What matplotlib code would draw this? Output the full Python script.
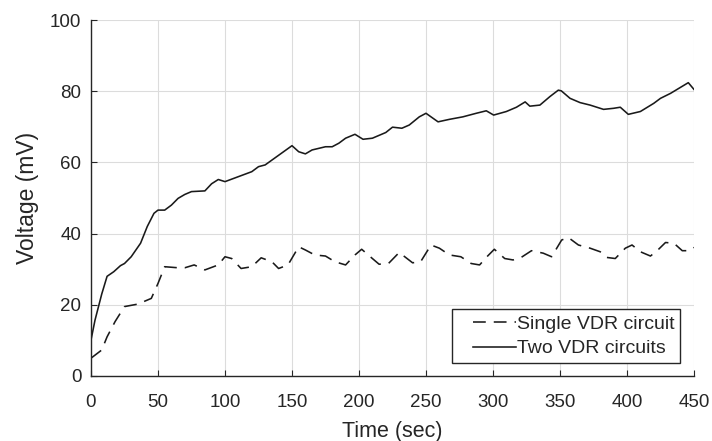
import matplotlib
matplotlib.use("Agg")
import matplotlib.pyplot as plt
from matplotlib.legend_handler import HandlerLine2D
from matplotlib.lines import Line2D

plt.rcParams['font.family'] = ['Liberation Sans', 'DejaVu Sans']

# Two VDR circuits (solid)
t_two = [0, 3, 8, 12, 17, 22, 25, 30, 37, 42, 47, 50, 55, 60, 65, 70, 75, 85, 90, 95,
         100, 110, 120, 125, 130, 140, 150, 155, 160, 165, 175, 180, 185, 190, 197, 203,
         210, 220, 225, 232, 237.5, 245, 250, 259, 267.5, 277.5, 287.5, 295, 300.5, 310,
         317.5, 324, 327.5, 335, 342.5, 348.75, 351, 357.5, 365, 372.5, 382.5, 390, 395,
         401, 410, 420, 425, 432.5, 440, 445.75, 450]
v_two = [10.1, 15.7, 23, 28, 29.3, 31, 31.6, 33.5, 37.3, 42, 45.7, 46.6, 46.6, 48, 49.9, 51,
         51.8, 52, 54, 55.2, 54.6, 56, 57.4, 58.8, 59.3, 62, 64.7, 63, 62.4, 63.5, 64.4, 64.4,
         65.4, 66.8, 67.9, 66.5, 66.8, 68.4, 69.9, 69.6, 70.5, 72.8, 73.8, 71.4, 72.1, 72.8,
         73.8, 74.5, 73.3, 74.3, 75.5, 77, 75.8, 76.1, 78.5, 80.3, 80.1, 78, 76.8, 76.1,
         74.9, 75.2, 75.5, 73.5, 74.3, 76.6, 78, 79.4, 81.1, 82.4, 80.5]

# Single VDR circuit (dashed)
t_single = [0, 8, 12, 18, 25, 35, 45, 50, 55, 65, 70, 77, 85, 95, 100, 105, 112, 120, 127,
            135, 140, 147, 155, 160, 167, 175, 182, 190, 197, 202, 210, 215, 222, 230,
            240, 246, 253.75, 260, 267.5, 276, 283.75, 290, 296, 301, 308.75, 315, 321,
            328.75, 337.5, 343.75, 351.25, 356.25, 363.75, 372.5, 380, 385, 391.25,
            398.75, 403.75, 410, 417.5, 422.5, 428.75, 435, 441.25, 446.25, 450]
v_single = [5, 7.3, 11, 15.3, 19.5, 20.2, 21.8, 26, 30.7, 30.4, 30.4, 31.2, 29.8, 31.2, 33.5,
            33, 30.2, 30.7, 33.2, 32.1, 30.2, 31.2, 36.3, 35.4, 34, 33.7, 32.1, 31.2, 34,
            35.6, 33, 31.4, 31.6, 34.7, 31.8, 32.1, 36.8, 35.9, 34, 33.5, 31.6, 31.2,
            33.7, 35.6, 33, 32.6, 33.3, 35.2, 34.5, 33.5, 38.2, 38.9, 36.8, 35.9, 34.9,
            33.3, 33, 35.9, 36.8, 34.9, 33.7, 35.2, 37.5, 37.3, 35.2, 35.2, 36.1]

x_ticks = [0, 50, 100, 150, 200, 250, 300, 350, 400, 450]
y_ticks = [0, 20, 40, 60, 80, 100]


class ShiftedLineHandler(HandlerLine2D):
    """Draw the legend line only in the right part of the handle box (MATLAB-like)."""
    def create_artists(self, legend, orig_handle, xdescent, ydescent, width, height,
                       fontsize, trans):
        shift = width * 0.25
        return super().create_artists(legend, orig_handle, xdescent - shift, ydescent,
                                      width - shift, height, fontsize, trans)


txt = '#262626'
fig = plt.figure(figsize=(7.12, 4.41), dpi=100)
ax = fig.add_axes([0.1278, 0.1474, 0.8469, 0.8072])

ax.plot(t_single, v_single, color='#1a1a1a', lw=1.15, linestyle=(0, (8, 5)),
        label='Single VDR circuit')
ax.plot(t_two, v_two, color='#1a1a1a', lw=1.15, label='Two VDR circuits')

ax.set_xlim(0, 450)
ax.set_ylim(0, 100)
ax.set_xticks(x_ticks)
ax.set_yticks(y_ticks)
ax.grid(True, color='#dcdcdc', lw=0.8)
ax.set_axisbelow(True)
for s in ['top', 'right']:
    ax.spines[s].set_visible(False)
for s in ['left', 'bottom']:
    ax.spines[s].set_color(txt)
    ax.spines[s].set_linewidth(1.0)
ax.tick_params(direction='in', length=4.5, width=0.8, colors=txt, labelsize=13.5)
ax.tick_params(axis='x', pad=13)
ax.tick_params(axis='y', pad=7)
ax.set_xlabel('Time (sec)', fontsize=15.5, color=txt, labelpad=7)
ax.set_ylabel('Voltage (mV)', fontsize=16.5, color=txt, labelpad=8)

leg = ax.legend(loc='lower right', bbox_to_anchor=(0.977, 0.036), fontsize=14,
                frameon=True, fancybox=False, edgecolor=txt, framealpha=1,
                handlelength=2.95, handletextpad=0.05, borderpad=0.3,
                labelspacing=0.35, borderaxespad=0,
                handler_map={Line2D: ShiftedLineHandler()})
leg.get_frame().set_linewidth(1.0)
for t in leg.get_texts():
    t.set_color(txt)

fig.savefig('out.png', dpi=100)
